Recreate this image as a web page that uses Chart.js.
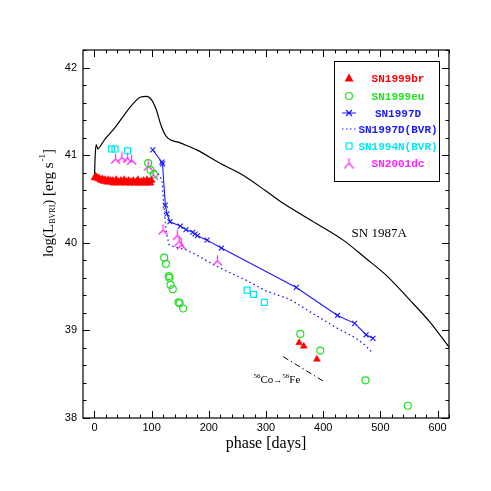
<!DOCTYPE html>
<html>
<head>
<meta charset="utf-8">
<script src="https://cdn.jsdelivr.net/npm/chart.js@4.4.1/dist/chart.umd.min.js"></script>
<style>
  html, body { margin: 0; padding: 0; background: #fff; }
</style>
</head>
<body>
<canvas id="lc" width="491" height="491"></canvas>
<script>
// --- Dados ---
const xTicks = [0, 100, 200, 300, 400, 500, 600];
const yTicks = [38, 39, 40, 41, 42];

// SN 1987A (curva preta)
const sn87Days = [0, 1, 3, 6, 10, 15, 22, 33, 50, 68, 80, 91, 100, 108, 117, 126, 150, 179, 219, 260, 300, 330, 388, 435, 475, 510, 551, 586, 620];
const sn87Lum = [40.72, 40.95, 41.12, 41.07, 41.1, 41.15, 41.21, 41.29, 41.44, 41.59, 41.66, 41.67, 41.63, 41.52, 41.33, 41.21, 41.14, 41.06, 40.91, 40.77, 40.59, 40.45, 40.22, 40.03, 39.82, 39.63, 39.35, 39.1, 38.81];

// SN1999br (triângulos vermelhos)
const br99Days = [0, 2, 4, 6, 8, 10, 12, 14, 16, 18, 20, 22, 24, 26, 28, 30, 32, 34, 36, 38, 40, 42, 44, 46, 48, 50, 52, 54, 56, 58, 60, 62, 64, 66, 68, 70, 72, 74, 76, 78, 80, 82, 84, 86, 88, 90, 92, 94, 96, 98, 100, 358, 366, 389];
const br99Lum = [40.74, 40.76, 40.75, 40.73, 40.74, 40.72, 40.71, 40.73, 40.70, 40.72, 40.71, 40.69, 40.72, 40.70, 40.71, 40.69, 40.71, 40.68, 40.70, 40.72, 40.69, 40.70, 40.68, 40.71, 40.69, 40.70, 40.72, 40.68, 40.70, 40.69, 40.71, 40.68, 40.70, 40.69, 40.71, 40.68, 40.69, 40.70, 40.72, 40.68, 40.69, 40.70, 40.68, 40.71, 40.69, 40.68, 40.72, 40.69, 40.70, 40.68, 40.71, 38.86, 38.82, 38.67];

// SN1999eu (círculos verdes)
const eu99Days = [94, 98, 104, 122, 125, 130, 131, 133, 137, 147, 149, 155, 360, 395, 474, 548];
const eu99Lum = [40.91, 40.83, 40.78, 39.83, 39.76, 39.62, 39.6, 39.52, 39.47, 39.32, 39.31, 39.25, 38.96, 38.77, 38.43, 38.14];

// SN1997D (cruzes azuis com linha)
const d97Days = [102, 118, 119, 124, 127, 132, 150, 160, 172, 176, 180, 197, 222, 353, 425, 455, 475, 487];
const d97Lum = [41.06, 40.92, 40.9, 40.43, 40.33, 40.24, 40.19, 40.15, 40.12, 40.1, 40.08, 40.03, 39.94, 39.49, 39.17, 39.08, 38.95, 38.91];

// SN1997D(BVR) (pontilhado azul)
const d97bvrDays = [106, 112, 118, 120, 123, 126, 131, 160, 176, 214, 266, 300, 340, 353, 380, 423, 455, 470, 484];
const d97bvrLum = [40.83, 40.78, 40.72, 40.55, 40.3, 40.1, 39.97, 39.92, 39.87, 39.73, 39.57, 39.45, 39.36, 39.31, 39.2, 39.03, 38.92, 38.85, 38.76];

// SN1994N(BVR) (quadrados ciano)
const n94Days = [30, 36, 58, 267, 278, 297];
const n94Lum = [41.07, 41.07, 41.05, 39.46, 39.41, 39.32];

// SN2001dc (tripés magenta)
const dc01Days = [37, 48, 58, 65, 94, 103, 120, 145, 148, 152, 215];
const dc01Lum = [40.96, 40.98, 40.97, 40.95, 40.88, 40.78, 40.15, 40.09, 40.02, 39.98, 39.8];

// Reta de decaimento 56Co -> 56Fe
const coDays = [330, 403];
const coLum = [38.70, 38.41];

const legendLabels = ['SN1999br', 'SN1999eu', 'SN1997D', 'SN1997D(BVR)', 'SN1994N(BVR)', 'SN2001dc'];

// --- Utilitários ---
function zip(xs, ys) {
    return xs.map((x, i) => ({ x: x, y: ys[i] }));
}

// Marcador em forma de tripé invertido (como no original)
function tripod(color) {
    const c = document.createElement('canvas');
    c.width = 11; c.height = 11;
    const g = c.getContext('2d');
    g.strokeStyle = color;
    g.lineWidth = 1.2;
    g.beginPath();
    g.moveTo(5.5, 0.5); g.lineTo(5.5, 6);
    g.lineTo(1, 10.5);
    g.moveTo(5.5, 6); g.lineTo(10, 10.5);
    g.stroke();
    return c;
}

const RED = '#ff0000', GREEN = '#22e022', BLUE = '#1a1aff', CYAN = '#00e8f0', MAGENTA = '#ff22ff';
const tripodImg = tripod(MAGENTA);

// --- Plugin: moldura, ticks internos, títulos e anotações ---
const framePlugin = {
    id: 'frame',
    afterDatasetsDraw(chart) {
        const ctx = chart.ctx;
        const a = chart.chartArea;
        const xs = chart.scales.x, ys = chart.scales.y;
        ctx.save();
        ctx.strokeStyle = '#000';
        ctx.lineWidth = 1.2;
        ctx.strokeRect(a.left, a.top, a.right - a.left, a.bottom - a.top);

        ctx.lineWidth = 1;
        ctx.beginPath();
        for (let v = 0; v <= 620; v += 20) {
            const px = Math.round(xs.getPixelForValue(v)) + 0.5;
            const len = (v % 100 === 0) ? 7 : 3.5;
            ctx.moveTo(px, a.bottom); ctx.lineTo(px, a.bottom - len);
            ctx.moveTo(px, a.top); ctx.lineTo(px, a.top + len);
        }
        for (let k = 0; k <= 21; k++) {
            const v = 38 + k * 0.2;
            const py = Math.round(ys.getPixelForValue(v)) + 0.5;
            const len = (k % 5 === 0) ? 7 : 3.5;
            ctx.moveTo(a.left, py); ctx.lineTo(a.left + len, py);
            ctx.moveTo(a.right, py); ctx.lineTo(a.right - len, py);
        }
        ctx.stroke();

        // títulos dos eixos
        ctx.fillStyle = '#000';
        ctx.font = '16px "Liberation Serif"';
        ctx.textAlign = 'center';
        ctx.textBaseline = 'middle';
        ctx.fillText('phase [days]', (a.left + a.right) / 2, 444);

        // título Y com subscrito/sobrescrito
        const parts = [
            { t: 'log(L', f: '15px "Liberation Serif"', dy: 0 },
            { t: 'BVRI', f: '8px "Liberation Serif"', dy: 4 },
            { t: ') [erg s', f: '15px "Liberation Serif"', dy: 0 },
            { t: '-1', f: '9px "Liberation Serif"', dy: -6 },
            { t: ']', f: '15px "Liberation Serif"', dy: 0 }
        ];
        let total = 0;
        parts.forEach(p => { ctx.font = p.f; p.w = ctx.measureText(p.t).width + (p.t === '-1' ? 1 : 0); total += p.w; });
        ctx.save();
        ctx.translate(49, 203);
        ctx.rotate(-Math.PI / 2);
        ctx.textAlign = 'left';
        let cx = -total / 2;
        parts.forEach(p => { ctx.font = p.f; ctx.fillText(p.t, cx + (p.t === '-1' ? 1 : 0), p.dy); cx += p.w; });
        ctx.restore();

        // rótulo SN 1987A
        ctx.font = '13px "Liberation Serif"';
        ctx.textAlign = 'center';
        ctx.fillText('SN 1987A', xs.getPixelForValue(498), ys.getPixelForValue(40.1));

        // rótulo 56Co -> 56Fe
        const coParts = [
            { t: '56', f: '7px "Liberation Serif"', dy: -4 },
            { t: 'Co', f: '11px "Liberation Serif"', dy: 0 },
            { t: '\u2192', f: '9px "Liberation Serif"', dy: 0 },
            { t: '56', f: '7px "Liberation Serif"', dy: -4 },
            { t: 'Fe', f: '11px "Liberation Serif"', dy: 0 }
        ];
        let cw = 0;
        coParts.forEach(p => { ctx.font = p.f; p.w = ctx.measureText(p.t).width; cw += p.w; });
        let sx = xs.getPixelForValue(319) - cw / 2;
        const sy = ys.getPixelForValue(38.43);
        ctx.textAlign = 'left';
        coParts.forEach(p => { ctx.font = p.f; ctx.fillText(p.t, sx, sy + p.dy); sx += p.w; });
        ctx.restore();
    },
    afterDraw(chart) {
        // --- Legenda em caixa ---
        const ctx = chart.ctx;
        ctx.save();
        ctx.fillStyle = '#fff';
        ctx.fillRect(334, 61, 105, 120);
        ctx.strokeStyle = '#000';
        ctx.lineWidth = 1;
        ctx.strokeRect(334.5, 61.5, 105, 120);
        const colors = [RED, GREEN, BLUE, BLUE, CYAN, MAGENTA];
        const rows = [78, 96, 113, 129, 146, 163];
        const mx = 349;
        legendLabels.forEach((lab, i) => {
            const y = rows[i];
            ctx.strokeStyle = colors[i];
            ctx.fillStyle = colors[i];
            ctx.lineWidth = 1.2;
            ctx.setLineDash([]);
            ctx.beginPath();
            if (i === 0) {
                ctx.moveTo(mx - 4.5, y + 3.5); ctx.lineTo(mx + 4.5, y + 3.5); ctx.lineTo(mx, y - 4.5); ctx.closePath();
                ctx.fill();
            } else if (i === 1) {
                ctx.arc(mx, y, 3.5, 0, Math.PI * 2); ctx.stroke();
            } else if (i === 2) {
                ctx.moveTo(mx - 7, y); ctx.lineTo(mx + 7, y);
                ctx.moveTo(mx - 3, y - 3); ctx.lineTo(mx + 3, y + 3);
                ctx.moveTo(mx + 3, y - 3); ctx.lineTo(mx - 3, y + 3);
                ctx.stroke();
            } else if (i === 3) {
                ctx.setLineDash([1.5, 2.5]);
                ctx.moveTo(mx - 7, y); ctx.lineTo(mx + 7, y); ctx.stroke();
                ctx.setLineDash([]);
            } else if (i === 4) {
                ctx.strokeRect(mx - 3, y - 3, 6, 6);
            } else {
                ctx.drawImage(tripodImg, mx - 5.5, y - 5.5);
            }
            ctx.font = 'bold 11px "Liberation Mono"';
            ctx.textAlign = 'center';
            ctx.textBaseline = 'middle';
            ctx.fillText(lab, 398, y + 1);
        });
        ctx.restore();
    }
};

const ctx = document.getElementById('lc').getContext('2d');
new Chart(ctx, {
    type: 'scatter',
    data: {
        datasets: [
            {
                label: 'SN1999br', data: zip(br99Days, br99Lum),
                pointStyle: 'triangle', pointRadius: 4, backgroundColor: RED, borderColor: RED, borderWidth: 0.5
            },
            {
                label: 'SN1999eu', data: zip(eu99Days, eu99Lum),
                pointStyle: 'circle', pointRadius: 3.5, backgroundColor: 'rgba(0,0,0,0)', borderColor: GREEN, borderWidth: 1.2
            },
            {
                label: 'SN1994N(BVR)', data: zip(n94Days, n94Lum),
                pointStyle: 'rect', pointRadius: 4.2, backgroundColor: 'rgba(0,0,0,0)', borderColor: CYAN, borderWidth: 1.2
            },
            {
                label: 'SN2001dc', data: zip(dc01Days, dc01Lum),
                pointStyle: tripodImg, pointRadius: 5
            },
            {
                label: 'SN1997D', data: zip(d97Days, d97Lum), showLine: true,
                pointStyle: 'crossRot', pointRadius: 3.5, borderColor: BLUE, backgroundColor: BLUE, borderWidth: 1.1
            },
            {
                label: 'SN1997D(BVR)', data: zip(d97bvrDays, d97bvrLum), showLine: true,
                pointRadius: 0, borderColor: BLUE, borderWidth: 1.3, borderDash: [1.5, 3]
            },
            {
                label: 'SN 1987A', data: zip(sn87Days, sn87Lum), showLine: true,
                pointRadius: 0, borderColor: '#000', borderWidth: 1.2, cubicInterpolationMode: 'monotone'
            },
            {
                label: 'Co decay', data: zip(coDays, coLum), showLine: true,
                pointRadius: 0, borderColor: '#000', borderWidth: 1, borderDash: [6, 3, 1.5, 3]
            }
        ]
    },
    options: {
        responsive: false,
        animation: false,
        layout: { padding: { left: 0, top: 50, right: 42, bottom: 0 } },
        plugins: { legend: { display: false }, tooltip: { enabled: false } },
        scales: {
            x: {
                type: 'linear', min: -20, max: 620,
                grid: { display: false, drawTicks: false, tickLength: 0 }, border: { display: false },
                afterBuildTicks: s => { s.ticks = xTicks.map(v => ({ value: v })); },
                afterFit: s => { s.height = 73; },
                ticks: { color: '#000', padding: 3, maxRotation: 0, font: { family: 'Liberation Sans', size: 11 } }
            },
            y: {
                type: 'linear', min: 38, max: 42.2,
                grid: { display: false, drawTicks: false, tickLength: 0 }, border: { display: false },
                afterBuildTicks: s => { s.ticks = yTicks.map(v => ({ value: v })); },
                afterFit: s => { s.width = 83; },
                ticks: { color: '#000', padding: 6, font: { family: 'Liberation Sans', size: 11 } }
            }
        }
    },
    plugins: [framePlugin]
});
</script>
</body>
</html>
